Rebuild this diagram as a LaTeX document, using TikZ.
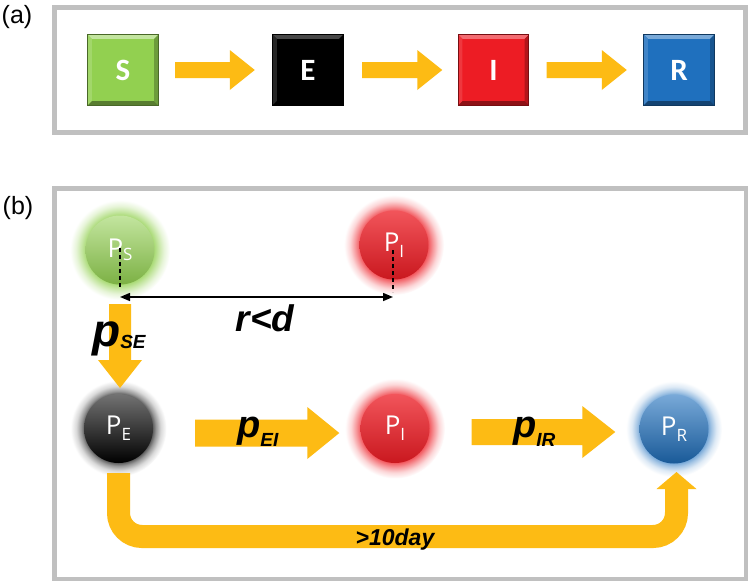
\documentclass[tikz,border=0pt]{standalone}
\usepackage{fontspec}
\setmainfont{Liberation Sans}
\newfontfamily\opf{Open Sans}
\newfontfamily\calf{Carlito}
\usetikzlibrary{calc,arrows.meta}

\definecolor{cG}{RGB}{146,208,80}
\definecolor{cR}{RGB}{237,28,36}
\definecolor{cB}{RGB}{31,112,190}
\definecolor{cY}{RGB}{253,187,20}
\definecolor{cF}{RGB}{192,192,192}

% the shaded circle's radius maps to 25bp
\pgfdeclareradialshading{glowG}{\pgfpoint{0bp}{0bp}}{color(0bp)=(cG!80!white); color(17bp)=(cG!80!white); color(19.5bp)=(cG!50!white); color(22bp)=(cG!22!white); color(25bp)=(white); color(50bp)=(white)}
\pgfdeclareradialshading{glowR}{\pgfpoint{0bp}{0bp}}{color(0bp)=(cR!75!white); color(17bp)=(cR!75!white); color(19.5bp)=(cR!45!white); color(22bp)=(cR!18!white); color(25bp)=(white); color(50bp)=(white)}
\pgfdeclareradialshading{glowB}{\pgfpoint{0bp}{0bp}}{color(0bp)=(cB!70!white); color(17bp)=(cB!70!white); color(19.5bp)=(cB!40!white); color(22bp)=(cB!15!white); color(25bp)=(white); color(50bp)=(white)}
\pgfdeclareradialshading{glowK}{\pgfpoint{0bp}{0bp}}{color(0bp)=(black!75); color(17bp)=(black!75); color(19.5bp)=(black!40); color(22bp)=(black!15); color(25bp)=(white); color(50bp)=(white)}

% fat horizontal arrow: start, tip, half shaft, half head, head length
\newcommand\hfat[5]{\fill[cY] ($(#1)+(0,-#3)$) -- ($(#2)+(-#5,-#3)$) -- ($(#2)+(-#5,-#4)$) -- (#2) -- ($(#2)+(-#5,#4)$) -- ($(#2)+(-#5,#3)$) -- ($(#1)+(0,#3)$) -- cycle;}
% fat downward arrow
\newcommand\vfat[5]{\fill[cY] ($(#1)+(-#3,0)$) -- ($(#2)+(-#3,-#5)$) -- ($(#2)+(-#4,-#5)$) -- (#2) -- ($(#2)+(#4,-#5)$) -- ($(#2)+(#3,-#5)$) -- ($(#1)+(#3,0)$) -- cycle;}
% bevel: name, top, left, right, bottom, outline
\newcommand\bevel[6]{%
 \fill[#2] (#1.north west) -- (#1.north east) -- ([shift={(-4,4)}]#1.north east) -- ([shift={(4,4)}]#1.north west) -- cycle;
 \fill[#3] (#1.north west) -- ([shift={(4,4)}]#1.north west) -- ([shift={(4,-4)}]#1.south west) -- (#1.south west) -- cycle;
 \fill[#4] (#1.north east) -- ([shift={(-4,4)}]#1.north east) -- ([shift={(-4,-4)}]#1.south east) -- (#1.south east) -- cycle;
 \fill[#5] (#1.south west) -- ([shift={(4,-4)}]#1.south west) -- ([shift={(-4,-4)}]#1.south east) -- (#1.south east) -- cycle;
 \draw[#6, line width=0.8pt] (#1.north west) rectangle (#1.south east);}

\begin{document}
\begin{tikzpicture}[x=1pt,y=-1pt,
  frame/.style={draw=cF, line width=4.5pt},
  sq/.style={rectangle, minimum size=70pt, inner sep=0pt},
  sqtext/.style={text=white, inner sep=0pt, font=\calf\bfseries\fontsize{31}{31}\selectfont},
  ball/.style={circle, minimum size=69pt, inner sep=0pt, text=white, font=\opf\fontsize{26}{26}\selectfont},
  panlab/.style={font=\fontsize{25}{25}\selectfont, inner sep=0pt},
  dline/.style={line width=1.5pt, dash pattern=on 4pt off 3pt},
  ptext/.style={inner sep=0pt, font=\bfseries\itshape},
]
\useasboundingbox (0,0) rectangle (750,582);
\fill[white] (0,0) rectangle (750,582);

% ---------- panel (a)
\draw[frame] (54.5,7.5) rectangle (745.5,132.5);
\node[panlab] (la) at (17,17) {(a)};

\node[sq, fill=cG] (S) at (123,70) {};
\node[sq, fill=black] (E) at (308,70) {};
\node[sq, fill=cR] (I) at (493.5,70) {};
\node[sq, fill=cB] (R) at (679,70) {};
\bevel{S}{cG!55!white}{cG!85!white}{cG!75!black}{cG!60!black}{cG!50!black}
\bevel{E}{black!72}{black!85}{black}{black}{black}
\bevel{I}{cR!65!white}{cR!88!white}{cR!75!black}{cR!60!black}{cR!50!black}
\bevel{R}{cB!60!white}{cB!85!white}{cB!75!black}{cB!60!black}{cB!50!black}
\node[sqtext] (St) at (S.center) {S};
\node[sqtext] (Et) at (E.center) {E};
\node[sqtext] (It) at (I.center) {I};
\node[sqtext] (Rt) at (R.center) {R};

\coordinate (a1s) at ($(S.east)+(17,0)$);
\coordinate (a1e) at ($(E.west)+(-18,0)$);
\coordinate (a2s) at ($(E.east)+(19,0)$);
\coordinate (a2e) at ($(I.west)+(-16,0)$);
\coordinate (a3s) at ($(I.east)+(18,0)$);
\coordinate (a3e) at ($(R.west)+(-17,0)$);
\hfat{a1s}{a1e}{8}{20}{25}
\hfat{a2s}{a2e}{8}{20}{25}
\hfat{a3s}{a3e}{8}{20}{25}

% ---------- panel (b)
\draw[frame] (54.5,188.5) rectangle (746,579);
\node[panlab] (lb) at (18,208) {(b)};

\coordinate (cPS) at (120,250);
\coordinate (cPI) at (394,245);
\coordinate (cPE) at (118.5,428.5);
\coordinate (cPI2) at (395,428.5);
\coordinate (cPR) at (674,429);

\shade[shading=glowG] (cPS) circle[radius=50pt];
\shade[shading=glowR] (cPI) circle[radius=50pt];
\shade[shading=glowK] (cPE) circle[radius=48pt];
\shade[shading=glowR] (cPI2) circle[radius=50pt];
\shade[shading=glowB] (cPR) circle[radius=48pt];

\node[ball, shading=axis, top color=cG!55!white, middle color=cG, bottom color=cG!85!black] (PS) at (cPS) {P\raisebox{-3pt}{\fontsize{17}{17}\selectfont S}};
\node[ball, shading=axis, top color=cR!75!white, middle color=cR, bottom color=cR!85!black] (PI) at (cPI) {P\raisebox{-6pt}{\fontsize{17}{17}\selectfont I}};
\node[ball, shading=axis, top color=black!55, middle color=black, bottom color=black] (PE) at (cPE) {P\raisebox{-6pt}{\fontsize{17}{17}\selectfont E}};
\node[ball, shading=axis, top color=cR!75!white, middle color=cR, bottom color=cR!85!black] (PI2) at (cPI2) {P\raisebox{-6pt}{\fontsize{17}{17}\selectfont I}};
\node[ball, shading=axis, top color=cB!60!white, middle color=cB, bottom color=cB!80!black] (PR) at (cPR) {P\raisebox{-6pt}{\fontsize{17}{17}\selectfont R}};

% distance arrow
\coordinate (rS) at ($(PS.center)+(0,47)$);
\coordinate (rI) at ($(PI.center)+(-1,52)$);
\draw[dline] ($(PS.center)+(0,-2)$) -- ($(rS)+(0,-9)$);
\draw[dline] ($(PI.center)+(-1,5)$) -- ($(rI)+(0,-5)$);
\draw[line width=1.5pt, {Triangle[length=10pt,width=8pt]}-{Triangle[length=10pt,width=8pt]}] (rS) -- (rI);
\node[ptext, font=\bfseries\itshape\fontsize{37}{37}\selectfont, anchor=base] (rd) at (265,331) {r<d};

% yellow arrows
\coordinate (vs) at ($(PS.center)+(0,54)$);
\coordinate (vt) at ($(PE.center)+(1.5,-40.5)$);
\vfat{vs}{vt}{11}{22}{28}

\coordinate (h1s) at ($(PE.east)+(42,4.5)$);
\coordinate (h1e) at ($(PI2.west)+(-21,4.5)$);
\hfat{h1s}{h1e}{13.5}{26}{32}
\coordinate (h2s) at ($(PI2.east)+(42,3.5)$);
\coordinate (h2e) at ($(PR.west)+(-24,3)$);
\hfat{h2s}{h2e}{13}{26}{33}

\coordinate (bs) at ($(PE.center)+(0,44.5)$);
\coordinate (be) at ($(PR.center)+(2.5,60)$);
\coordinate (bot) at (400,536.5);
\draw[cY, line width=23pt, rounded corners=23.5pt] (bs) -- (bs |- bot) -- (be |- bot) -- ($(be)+(0,-1)$);
\fill[cY] ($(be)+(-20,0)$) -- ($(be)+(20,0)$) -- ($(be)+(0,-17)$) -- cycle;

% labels on arrows
\node[ptext, anchor=base west] (pSE) at (92,346) {\fontsize{46}{46}\selectfont p\raisebox{-2pt}{\fontsize{19}{19}\selectfont SE}};
\node[ptext, anchor=base west] (pEI) at (237,437) {\fontsize{38}{38}\selectfont p\raisebox{-9pt}{\fontsize{19}{19}\selectfont EI}};
\node[ptext, anchor=base west] (pIR) at (513,437) {\fontsize{38}{38}\selectfont p\raisebox{-9pt}{\fontsize{19}{19}\selectfont IR}};
\node[ptext, anchor=base] (day) at (395,545.5) {\fontsize{23}{23}\selectfont >10day};
\end{tikzpicture}
\end{document}
